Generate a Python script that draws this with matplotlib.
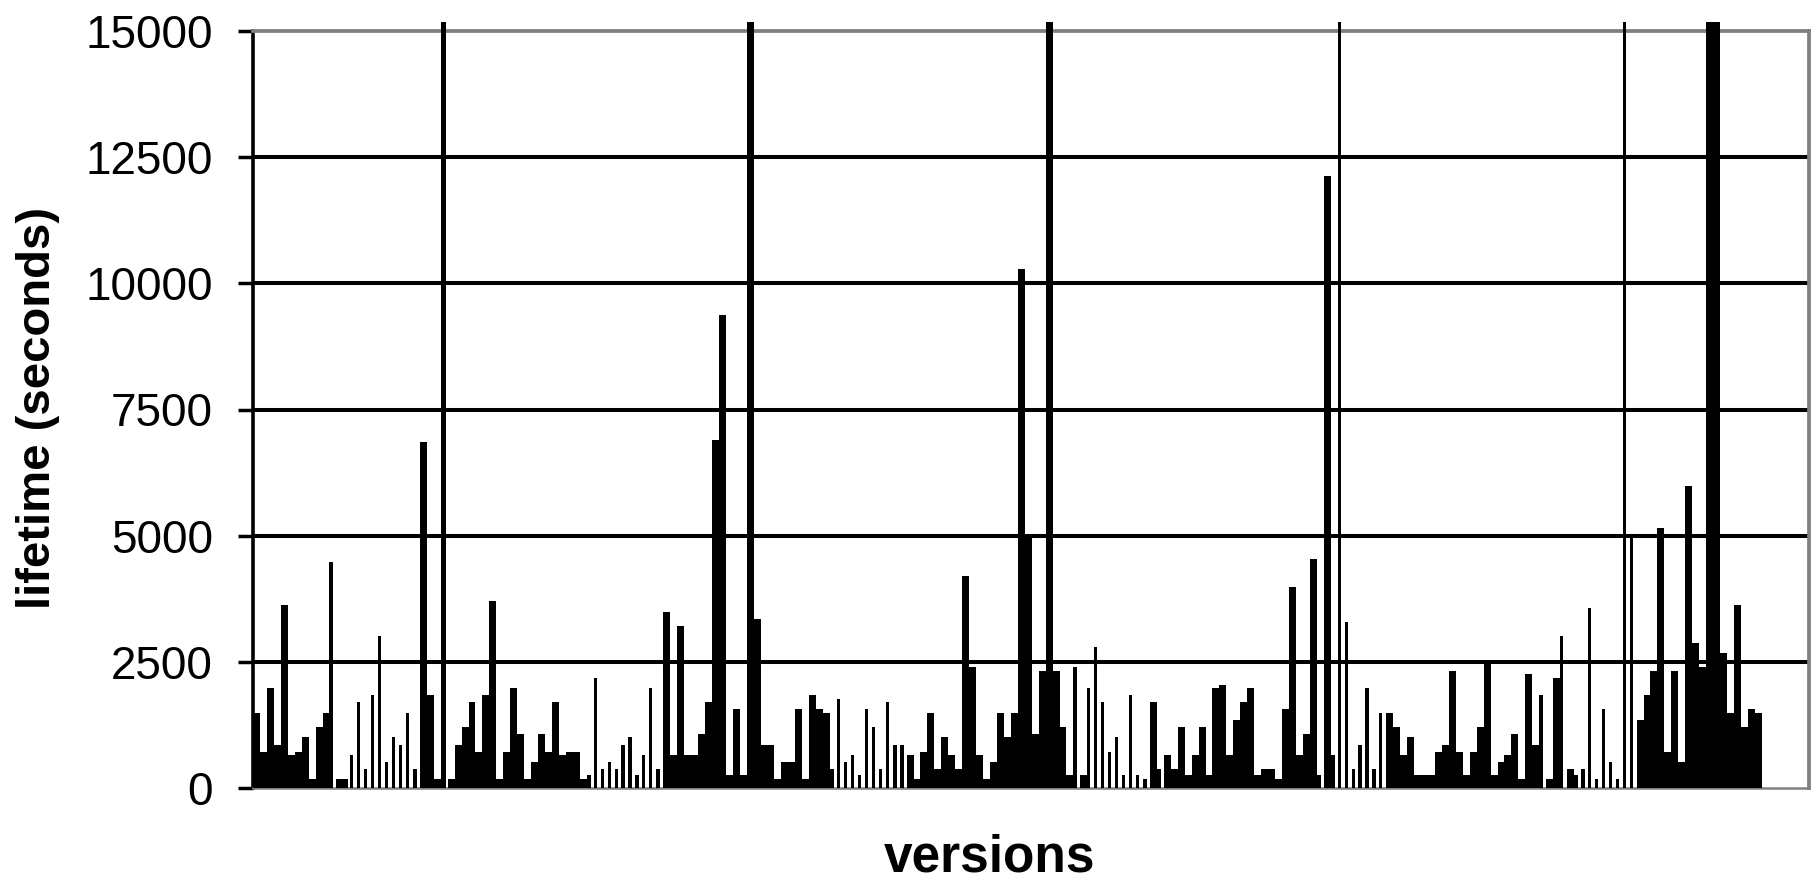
import numpy as np
import matplotlib
matplotlib.use("Agg")
import matplotlib.pyplot as plt

plt.rcParams['font.family'] = ['Liberation Sans', 'DejaVu Sans']

# lifetime (seconds) of each version, left to right
# bars that run off the top of the chart are given as 16000
lifetime = [
    1480, 720, 1980, 860, 3630, 660, 720, 1015, 170, 1210,
    1480, 4470, 170, 170, 660, 1700, 386, 1840, 3020, 524,
    1015, 858, 1480, 386, 6850, 1840, 170, 16000, 170, 858,
    1210, 1700, 720, 1840, 3707, 170, 720, 1978, 1074, 170,
    524, 1074, 720, 1700, 660, 720, 720, 170, 250, 2175,
    386, 524, 386, 858, 1015, 250, 660, 1978, 386, 3490,
    660, 3216, 660, 660, 1074, 1700, 6890, 9370, 250, 1565,
    250, 16000, 3353, 858, 858, 170, 524, 524, 1565, 170,
    1840, 1565, 1480, 386, 1762, 524, 660, 250, 1565, 1210,
    386, 1700, 858, 858, 660, 170, 720, 1480, 386, 1015,
    660, 386, 4200, 2390, 660, 170, 524, 1480, 1015, 1480,
    10290, 5000, 1074, 2312, 16000, 2312, 1210, 250, 2390, 250,
    1978, 2800, 1700, 720, 1015, 250, 1840, 250, 170, 1700,
    386, 660, 386, 1210, 250, 660, 1210, 250, 1978, 2037,
    660, 1350, 1700, 1978, 250, 386, 386, 170, 1565, 3982,
    660, 1074, 4533, 250, 12130, 660, 16000, 3295, 386, 858,
    1978, 386, 1480, 1480, 1210, 660, 1015, 250, 250, 250,
    720, 858, 2312, 720, 250, 720, 1210, 2490, 250, 524,
    660, 1074, 170, 2250, 858, 1840, 170, 2175, 3020, 386,
    250, 386, 3570, 170, 1565, 524, 170, 16000, 4965, 1350,
    1840, 2312, 5160, 720, 2312, 524, 5987, 2882, 2390, 16000,
    16000, 2666, 1480, 3629, 1210, 1565, 1480,
]
yticks = [0, 2500, 5000, 7500, 10000, 12500, 15000]

# rendering of the bars: some print as hairlines in the original
thin = [11] + list(range(14, 23)) + list(range(49, 58)) + list(range(84, 92)) \
    + [118] + list(range(120, 128)) + list(range(156, 163)) + [188] + list(range(192, 199))
narrow = [13, 23, 48, 58, 83, 92, 93, 128, 130, 153, 155, 185, 190, 191]

n = len(lifetime)
vals = np.array(lifetime, dtype=float)
widths = np.ones(n)
widths[thin] = 0.45
widths[narrow] = 0.6
widths[27] = 0.75

fig = plt.figure(figsize=(18.17, 8.85), dpi=100)
ax = fig.add_axes([253 / 1817, 97 / 885, (1809 - 253) / 1817, (788 - 31) / 885])

ax.bar(np.arange(n), np.minimum(vals, 15180), width=widths, align='edge',
       color='black', linewidth=0, zorder=3, clip_on=False)

ax.set_xlim(0, 223.8)
ax.set_ylim(0, 15000)
ax.set_yticks(yticks)
ax.set_yticklabels([str(t) for t in yticks], fontsize=33)
ax.set_xticks([])
ax.tick_params(axis='y', direction='out', length=11, width=2.5, pad=18, colors='black')

for t in yticks[1:-1]:
    ax.axhline(t, color='black', linewidth=2.9, zorder=2)

ax.spines['left'].set_color('black')
ax.spines['left'].set_linewidth(2.6)
for s in ['top', 'right']:
    ax.spines[s].set_color('#808080')
    ax.spines[s].set_linewidth(2.7)
ax.spines['bottom'].set_color('#808080')
ax.spines['bottom'].set_linewidth(1.8)

fig.text(38 / 1817, 1 - 408 / 885, 'lifetime (seconds)', rotation=90,
         ha='center', va='center', fontsize=34, fontweight='bold')
fig.text(990 / 1817, 3 / 885, 'versions', ha='center', va='bottom',
         fontsize=37, fontweight='bold')

fig.savefig('out.png', dpi=100)
